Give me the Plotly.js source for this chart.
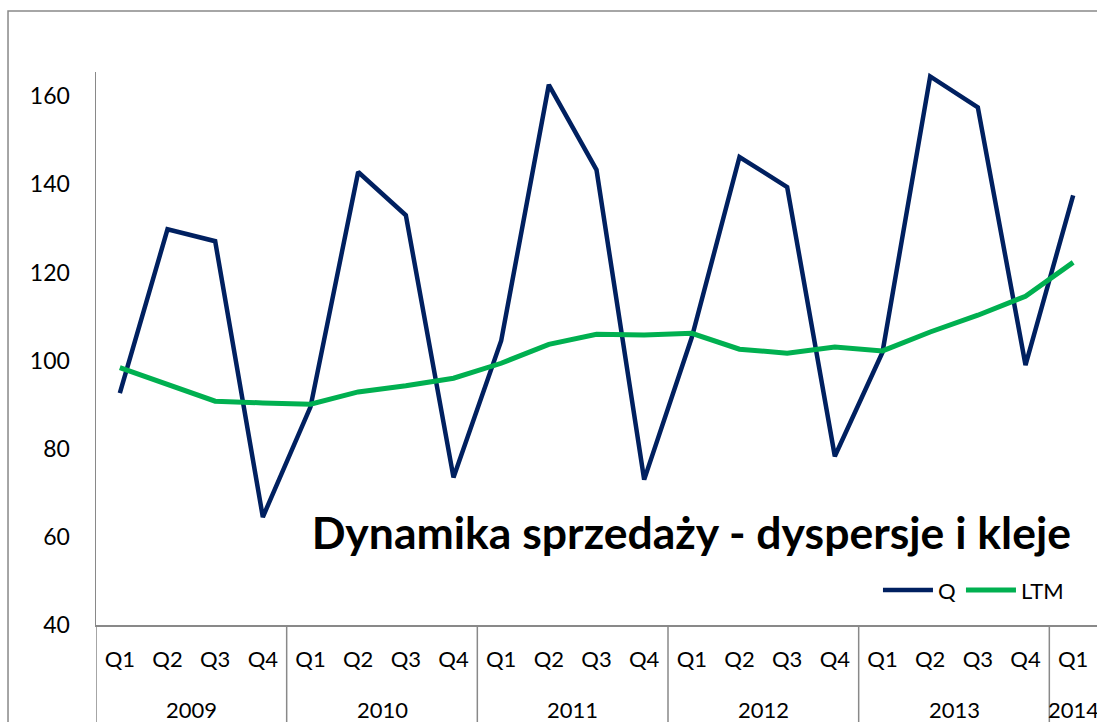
<!DOCTYPE html>
<html>
<head>
<meta charset="utf-8">
<script src="https://cdn.plot.ly/plotly-3.0.1.min.js"></script>
<style>html,body{margin:0;padding:0;background:#fff;}#chart{width:1097px;height:722px;}</style>
</head>
<body>
<div id="chart"></div>
<script>
var years = ['2009','2009','2009','2009','2010','2010','2010','2010','2011','2011','2011','2011','2012','2012','2012','2012','2013','2013','2013','2013','2014'];
var quarters = ['Q1','Q2','Q3','Q4','Q1','Q2','Q3','Q4','Q1','Q2','Q3','Q4','Q1','Q2','Q3','Q4','Q1','Q2','Q3','Q4','Q1'];
var qValues = [92.6, 129.8, 127.1, 64.5, 89.5, 142.8, 133.0, 73.5, 104.5, 162.6, 143.3, 73.0, 105.3, 146.2, 139.4, 78.3, 101.9, 164.5, 157.5, 99.0, 137.5];
var ltmValues = [98.4, 94.6, 90.8, 90.4, 90.1, 92.9, 94.3, 96.0, 99.4, 103.7, 106.0, 105.8, 106.2, 102.6, 101.7, 103.1, 102.2, 106.5, 110.3, 114.6, 122.3];
var yTicks = [40, 60, 80, 100, 120, 140, 160];
var chartTitle = 'Dynamika sprzedaży - dyspersje i kleje';

var FONT = 'Lato, "Open Sans", sans-serif';
var AXC = '#898989';

// category keys built from the two label levels
var cats = years.map(function (y, i) { return quarters[i] + ' ' + y; });

var traces = [
  {x: cats, y: qValues, name: 'Q', type: 'scatter', mode: 'lines',
   line: {color: '#002060', width: 4.5}},
  {x: cats, y: ltmValues, name: 'LTM', type: 'scatter', mode: 'lines',
   line: {color: '#00B050', width: 5}}
];

// year group labels and dividers
var annotations = [];
var shapes = [
  {type: 'rect', xref: 'paper', yref: 'paper', x0: -0.0879, x1: 1.05, y0: -0.3, y1: 1.1103,
   line: {color: AXC, width: 1.5}, fillcolor: 'rgba(0,0,0,0)', layer: 'below'}
];
var start = 0;
for (var i = 1; i <= years.length; i++) {
  if (i === years.length || years[i] !== years[start]) {
    annotations.push({x: (start + i - 1) / 2, xref: 'x', y: -0.1537, yref: 'paper',
      text: years[start], showarrow: false, xanchor: 'center', yanchor: 'middle',
      font: {family: FONT, size: 22, color: '#000000'}});
    shapes.push({type: 'line', xref: 'x', yref: 'paper', x0: start - 0.5, x1: start - 0.5,
      y0: 0, y1: -0.2, line: {color: AXC, width: 1.5}});
    start = i;
  }
}

var layout = {
  width: 1097, height: 722,
  margin: {l: 96, r: 0, t: 72, b: 97},
  paper_bgcolor: '#ffffff', plot_bgcolor: '#ffffff',
  font: {family: FONT, size: 22, color: '#000000'},
  title: {text: '<b>' + chartTitle + '</b>', font: {family: FONT, size: 44.5, color: '#000000'},
          xref: 'paper', yref: 'paper', x: 0.974, xanchor: 'right', y: 0.166, yanchor: 'middle'},
  showlegend: true,
  legend: {orientation: 'h', x: 0.972, xanchor: 'right', y: 0.063, yanchor: 'middle',
           font: {family: FONT, size: 22, color: '#000000'}, bgcolor: 'rgba(0,0,0,0)', itemwidth: 50},
  xaxis: {type: 'category', range: [-0.5, years.length - 0.5], tickvals: cats, ticktext: quarters,
          showgrid: false, zeroline: false, showline: true,
          linecolor: AXC, linewidth: 1.5, ticks: '', tickangle: 0,
          tickfont: {family: FONT, size: 22, color: '#000000'}, ticklabelstandoff: 14, fixedrange: true},
  yaxis: {range: [40, 165.5], tickvals: yTicks, ticktext: yTicks.map(String), showgrid: false, zeroline: false,
          showline: true, linecolor: AXC, linewidth: 1.5, ticks: '', ticklabelstandoff: 20,
          tickfont: {family: FONT, size: 23, color: '#000000'}, fixedrange: true},
  annotations: annotations,
  shapes: shapes
};

Plotly.newPlot('chart', traces, layout, {displayModeBar: false, staticPlot: true});
</script>
</body>
</html>
